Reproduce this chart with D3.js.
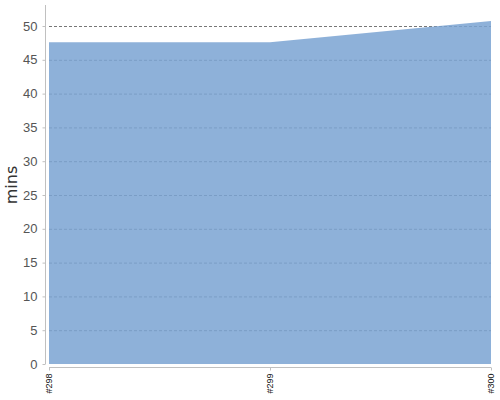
<!DOCTYPE html>
<html>
<head>
<meta charset="utf-8">
<script src="https://cdn.jsdelivr.net/npm/d3@7"></script>
<style>
  body { margin: 0; background: #fff; }
  svg { font-family: "DejaVu Sans", sans-serif; }
</style>
</head>
<body>
<svg id="chart" width="500" height="400"></svg>
<script>
// builds shown on the x axis and their durations (mins)
const builds = ["#298", "#299", "#300"];
const durations = [47.6, 47.6, 50.75];
const yTicks = [0, 5, 10, 15, 20, 25, 30, 35, 40, 45, 50];

const svg = d3.select("#chart");

const margin = { left: 49, right: 9, top: 5, bottom: 36 };
const width = 500, height = 400;

const data = builds.map((b, i) => ({ build: b, value: durations[i] }));

const xScale = d3
  .scalePoint()
  .domain(builds)
  .range([margin.left, width - margin.right]);

// 0 sits at y=364, 50 at y=26
const yScale = d3.scaleLinear().domain([0, 50]).range([364, 26]);

// grid lines, under the translucent area
svg
  .append("g")
  .selectAll("line")
  .data(yTicks.filter((t) => t > 0))
  .enter()
  .append("line")
  .attr("x1", margin.left)
  .attr("x2", width - margin.right)
  .attr("y1", (d) => yScale(d) + 0.5)
  .attr("y2", (d) => yScale(d) + 0.5)
  .attr("stroke", "#777")
  .attr("stroke-dasharray", "3,2");

// area
const area = d3
  .area()
  .x((d) => xScale(d.build))
  .y0(yScale(0))
  .y1((d) => yScale(d.value));

svg
  .append("path")
  .datum(data)
  .attr("d", area)
  .attr("fill", "#7aa3d2")
  .attr("fill-opacity", 0.85);

// y axis
const yAxis = d3.axisLeft(yScale).tickValues(yTicks).tickSize(3).tickPadding(5);
const gy = svg
  .append("g")
  .attr("transform", "translate(45.5,0)")
  .call(yAxis);
gy.select(".domain").attr("d", "M0,5V364").attr("stroke", "#c0c0c0");
gy.selectAll(".tick line").attr("stroke", "#c0c0c0");
gy.selectAll(".tick text")
  .style("font-size", "13px")
  .attr("fill", "#555");

// x axis
const xAxis = d3.axisBottom(xScale).tickSize(3).tickPadding(4);
const gx = svg
  .append("g")
  .attr("transform", "translate(0,367.5)")
  .call(xAxis);
gx.select(".domain")
  .attr("d", `M${margin.left},0H${width - margin.right}`)
  .attr("stroke", "#c0c0c0");
gx.selectAll(".tick line").attr("stroke", "#c0c0c0");
gx.selectAll(".tick text")
  .style("font-size", "9px")
  .attr("fill", "#111")
  .attr("text-anchor", "end")
  .attr("dy", "0.32em")
  .attr("x", -6)
  .attr("y", 0)
  .attr("transform", "rotate(-90)");

// y label
svg
  .append("text")
  .attr("transform", "translate(17,185) rotate(-90)")
  .style("text-anchor", "middle")
  .style("font-size", "16px")
  .attr("fill", "#333")
  .text("mins");
</script>
</body>
</html>
